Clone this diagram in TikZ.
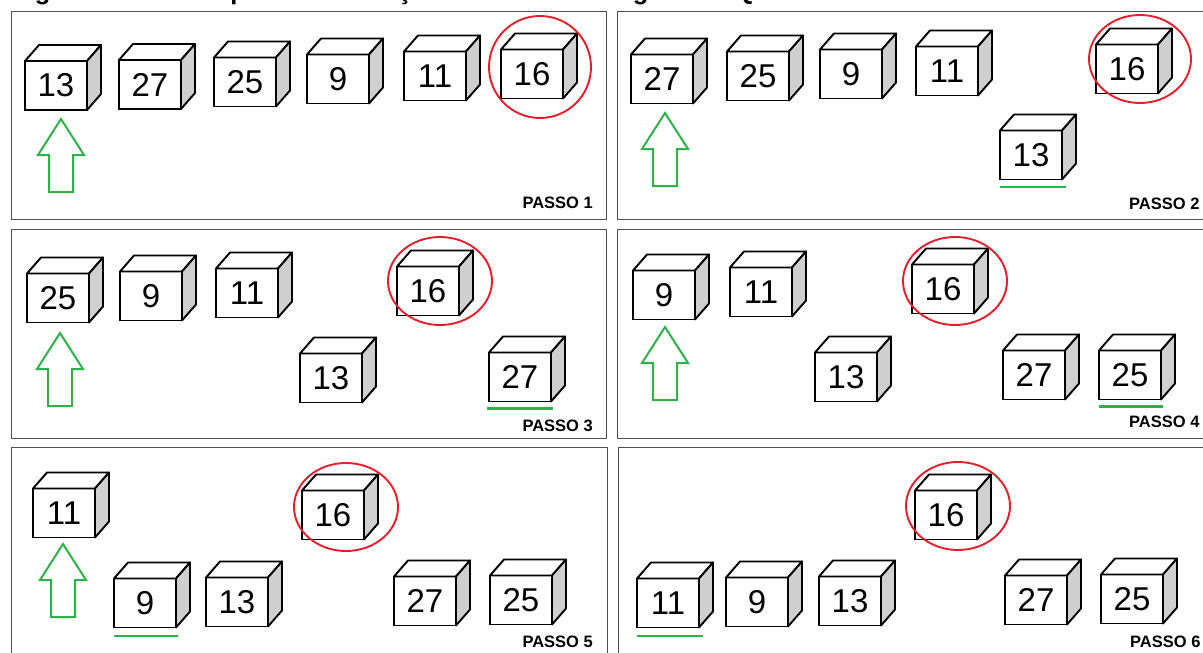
\documentclass[tikz,border=0pt]{standalone}
\usepackage{fontspec}
\setmainfont{Liberation Sans}
\definecolor{setaverde}{HTML}{2DB24A}
\definecolor{marcavermelha}{HTML}{E51E2B}
\definecolor{ladocinza}{HTML}{CFCFCF}
\definecolor{quadrocinza}{HTML}{505050}
% cube: name, x, y (centre of the front face), number
\newcommand{\cubo}[4]{%
  \node[face] (#1) at (#2,#3) {#4};
  \draw[topo] (#1.north west) -- ++(14,-16) -- ++(62,0) -- (#1.north east) -- cycle;
  \draw[lado] (#1.north east) -- ++(14,-16) -- ++(0,49) -- (#1.south east) -- cycle;
}
% hollow arrow pointing up: x, y of the tip
\newcommand{\setacima}[2]{%
  \draw[seta] (#1,#2) -- ++(23,36) -- ++(-11,0) -- ++(0,37) -- ++(-24,0)
    -- ++(0,-37) -- ++(-11,0) -- cycle;
}

\begin{document}
\begin{tikzpicture}[
  x=1pt,
  y=-1pt,
  face/.style={draw, fill=white, line width=1.9pt, minimum width=62pt,
    minimum height=49pt, inner sep=0pt, outer sep=0pt,
    font={\fontsize{33}{36}\selectfont}},
  topo/.style={draw, fill=white, line width=1.9pt, line join=round},
  lado/.style={draw, fill=ladocinza, line width=1.9pt, line join=round},
  seta/.style={setaverde, line width=2pt},
  marca/.style={marcavermelha, line width=1.9pt},
  sublinha/.style={setaverde, line width=2.6pt},
  quadro/.style={quadrocinza, line width=1pt},
  passo/.style={font={\fontsize{16.5}{18}\bfseries\selectfont}, inner sep=0pt},
  titulo/.style={font={\fontsize{25.5}{28}\bfseries\selectfont}, inner sep=0pt}
]
  \useasboundingbox (0,0) rectangle (1203,653);
  \clip (0,0) rectangle (1203,653);

  % ---- caption, cut off at the top ------------------------------------
  \node[titulo, anchor=base west] (titulo) at (12,0)
    {Figura 5 - Passos para a ordenação com base no algoritmo Quick Sort};

  % ---- frames -----------------------------------------------------------
  \draw[quadro] (11,11) rectangle (606,219);
  \draw[quadro] (617,11) rectangle (1213,219);
  \draw[quadro] (11,229) rectangle (606,438);
  \draw[quadro] (617,229) rectangle (1213,438);
  \draw[quadro] (11,447) rectangle (607,660);
  \draw[quadro] (618,447) rectangle (1213,660);

  % ---- passo 1 ----------------------------------------------------------
  \cubo{p1a}{56}{85.5}{13}
  \cubo{p1b}{150}{84.5}{27}
  \cubo{p1c}{245}{82}{25}
  \cubo{p1d}{338}{79}{9}
  \cubo{p1e}{435}{76}{11}
  \cubo{p1p}{532}{74}{16}
  \setacima{61}{119}
  \draw[marca] (540,67) circle [radius=51];
  \node[passo, anchor=base east] (passo1) at (593,208) {PASSO 1};

  % ---- passo 2 ----------------------------------------------------------
  \cubo{p2a}{662}{79}{27}
  \cubo{p2b}{758}{76}{25}
  \cubo{p2c}{851}{74}{9}
  \cubo{p2d}{947}{71}{11}
  \cubo{p2p}{1127}{69}{16}
  \cubo{p2m}{1031}{155}{13}
  \setacima{665}{113}
  \draw[marca] (1140,59) ellipse [x radius=51, y radius=44];
  \draw[sublinha] ([yshift=-7.5pt]p2m.south west) -- ([xshift=4pt,yshift=-7.5pt]p2m.south east);
  \node[passo, anchor=base west] (passo2) at (1129,209) {PASSO 2};

  % ---- passo 3 ----------------------------------------------------------
  \cubo{p3a}{58}{298}{25}
  \cubo{p3b}{151}{296}{9}
  \cubo{p3c}{247}{293}{11}
  \cubo{p3p}{428}{291}{16}
  \cubo{p3m}{331}{378}{13}
  \cubo{p3n}{520}{377}{27}
  \setacima{60}{333}
  \draw[marca] (440,281) ellipse [x radius=52, y radius=44];
  \draw[sublinha] ([xshift=-2pt,yshift=-7pt]p3n.south west) -- ([xshift=2pt,yshift=-7pt]p3n.south east);
  \node[passo, anchor=base east] (passo3) at (593,431) {PASSO 3};

  % ---- passo 4 ----------------------------------------------------------
  \cubo{p4a}{664}{295}{9}
  \cubo{p4b}{761}{292}{11}
  \cubo{p4p}{943}{289}{16}
  \cubo{p4m}{846}{377}{13}
  \cubo{p4n}{1034}{375}{27}
  \cubo{p4o}{1130}{375}{25}
  \setacima{665}{327}
  \draw[marca] (955,281) ellipse [x radius=52, y radius=44];
  \draw[sublinha] ([yshift=-7pt]p4o.south west) -- ([xshift=2pt,yshift=-7pt]p4o.south east);
  \node[passo, anchor=base west] (passo4) at (1129,427) {PASSO 4};

  % ---- passo 5 ----------------------------------------------------------
  \cubo{p5a}{64}{513}{11}
  \cubo{p5p}{333}{515}{16}
  \cubo{p5m}{145}{603}{9}
  \cubo{p5n}{237}{602}{13}
  \cubo{p5o}{425}{601}{27}
  \cubo{p5q}{521}{600}{25}
  \setacima{63}{544}
  \draw[marca] (346,507) ellipse [x radius=52, y radius=44];
  \draw[sublinha] ([yshift=-8.5pt]p5m.south west) -- ([xshift=2pt,yshift=-8.5pt]p5m.south east);
  \node[passo, anchor=base east] (passo5) at (593,647) {PASSO 5};

  % ---- passo 6 ----------------------------------------------------------
  \cubo{p6p}{946}{515}{16}
  \cubo{p6a}{668}{603}{11}
  \cubo{p6b}{757}{602}{9}
  \cubo{p6c}{850}{601}{13}
  \cubo{p6d}{1036}{600}{27}
  \cubo{p6e}{1132}{599}{25}
  \draw[marca] (958,506) ellipse [x radius=52, y radius=44];
  \draw[sublinha] ([yshift=-8.5pt]p6a.south west) -- ([xshift=4pt,yshift=-8.5pt]p6a.south east);
  \node[passo, anchor=base west] (passo6) at (1130,647) {PASSO 6};
\end{tikzpicture}
\end{document}
